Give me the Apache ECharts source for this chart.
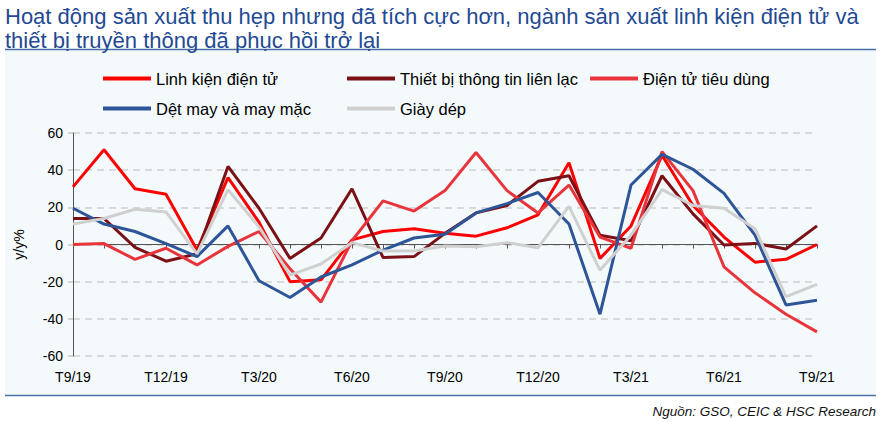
<!DOCTYPE html>
<html>
<head>
  <meta charset="UTF-8">
  <title>Sản xuất điện tử</title>
  <script src="https://cdn.jsdelivr.net/npm/echarts@6/dist/echarts.min.js"></script>
  <style>
    html, body { margin: 0; padding: 0; background: #fff; }
    #main { width: 890px; height: 422px; }
  </style>
</head>
<body>
<div id="main"></div>
<script>
  // Monthly categories T9/19 .. T9/21
  const months = ['T9/19', 'T10/19', 'T11/19', 'T12/19', 'T1/20', 'T2/20', 'T3/20', 'T4/20', 'T5/20',
    'T6/20', 'T7/20', 'T8/20', 'T9/20', 'T10/20', 'T11/20', 'T12/20', 'T1/21', 'T2/21', 'T3/21',
    'T4/21', 'T5/21', 'T6/21', 'T7/21', 'T8/21', 'T9/21'];

  const linhKien = [31, 51, 30, 27, -3, 36, 12, -20, -19, 2.5, 7, 8.5, 6, 4.5, 9, 16, 44, -7.5, 10, 48, 21, 4, -9.5, -8, 0];
  const thietBi = [14, 14, -1.5, -9, -5, 42, 19.5, -7.5, 3.5, 30, -7, -6.5, 6, 17, 21, 34, 37, 5, 2, 37, 16.5, -0.3, 0.6, -2.4, 10];
  const dienTuTieuDung = [0, 0.5, -8, -2, -11, -1, 7, -13, -31, 2, 23.5, 18, 29, 49.5, 29, 17, 32, 4, -2, 50, 29, -12, -26, -37.5, -47];
  const detMay = [19.5, 11, 7, 0.5, -6.5, 10, -19.5, -28.5, -17.5, -11, -3, 3.5, 5.5, 17, 22, 28, 11, -37.5, 32, 48.5, 40.5, 27.5, 5, -32.5, -30];
  const giayDep = [11, 14, 19, 17.5, -5, 29.5, 9.5, -16.5, -10.5, 1, -3.5, -3.5, -0.8, -1.2, 1, -1.7, 20.5, -13.8, 5, 29.5, 21, 19.5, 8.5, -28, -21.5];

  const seriesDefs = [
    { name: 'Linh kiện điện tử', data: linhKien, color: '#FF0000', legendLeft: 98, legendTop: 65 },
    { name: 'Thiết bị thông tin liên lạc', data: thietBi, color: '#7B1116', legendLeft: 342, legendTop: 65 },
    { name: 'Điện tử tiêu dùng', data: dienTuTieuDung, color: '#E8353C', legendLeft: 585, legendTop: 65 },
    { name: 'Dệt may và may mặc', data: detMay, color: '#2E5597', legendLeft: 98, legendTop: 95 },
    { name: 'Giày dép', data: giayDep, color: '#D0D0D0', legendLeft: 342, legendTop: 95 }
  ];

  const font = '"Liberation Sans", Arial, sans-serif';
  const chart = echarts.init(document.getElementById('main'), null, { renderer: 'svg' });
  chart.setOption({
    animation: false,
    textStyle: { fontFamily: font },
    title: {
      text: 'Hoạt động sản xuất thu hẹp nhưng đã tích cực hơn, ngành sản xuất linh kiện điện tử và\nthiết bị truyền thông đã phục hồi trở lại',
      left: 0, top: -1,
      textStyle: { color: '#1F4A93', fontSize: 22, fontWeight: 'normal', lineHeight: 24, fontFamily: font }
    },
    graphic: [
      { type: 'rect', z: -10, shape: { x: 5, y: 50, width: 871, height: 345 }, style: { fill: '#F4FAFC' } },
      { type: 'line', shape: { x1: 5, y1: 49.5, x2: 876, y2: 49.5 }, style: { stroke: '#4A6EA6', lineWidth: 1.5 } },
      { type: 'line', shape: { x1: 5, y1: 395.5, x2: 876, y2: 395.5 }, style: { stroke: '#4A6EA6', lineWidth: 1.5 } },
      {
        type: 'text', right: 14, top: 404,
        style: { text: 'Nguồn: GSO, CEIC & HSC Research', font: 'italic 13.5px ' + font, fill: '#111' }
      }
    ],
    legend: seriesDefs.map(s => ({
      data: [s.name],
      left: s.legendLeft, top: s.legendTop,
      icon: 'rect', itemWidth: 48, itemHeight: 4,
      textStyle: { fontSize: 16.5, color: '#000', fontFamily: font },
      selectedMode: false
    })),
    grid: { left: 73, right: 73, top: 133, bottom: 66 },
    xAxis: [
      {
        type: 'category', data: months, boundaryGap: false,
        axisLine: { onZero: true, lineStyle: { color: '#555', width: 1 } },
        axisTick: { show: true, interval: 0, length: 4, inside: false, lineStyle: { color: '#555' } },
        axisLabel: { show: false },
        splitLine: { show: false }
      },
      {
        type: 'category', data: months, boundaryGap: false, position: 'bottom',
        axisLine: { show: false, onZero: false },
        axisTick: { show: false },
        axisLabel: { interval: 2, fontSize: 14, color: '#000', margin: 14, fontFamily: font }
      }
    ],
    yAxis: {
      type: 'value', min: -60, max: 60, interval: 20,
      name: 'y/y%', nameLocation: 'middle', nameGap: 47, nameRotate: 90,
      nameTextStyle: { fontSize: 14, color: '#000', fontFamily: font },
      axisLine: { show: true, lineStyle: { color: '#555', width: 1 } },
      axisTick: { show: true, length: 5, lineStyle: { color: '#C8C8C8', width: 1.5 } },
      axisLabel: { fontSize: 14, color: '#000', margin: 10, fontFamily: font },
      splitLine: { lineStyle: { color: '#CFCFCF', width: 1.5, type: [7, 5] } }
    },
    series: seriesDefs.map(s => ({
      name: s.name,
      type: 'line',
      xAxisIndex: 0,
      data: s.data,
      symbol: 'none',
      lineStyle: { color: s.color, width: 3 },
      itemStyle: { color: s.color }
    }))
  });
</script>
</body>
</html>
